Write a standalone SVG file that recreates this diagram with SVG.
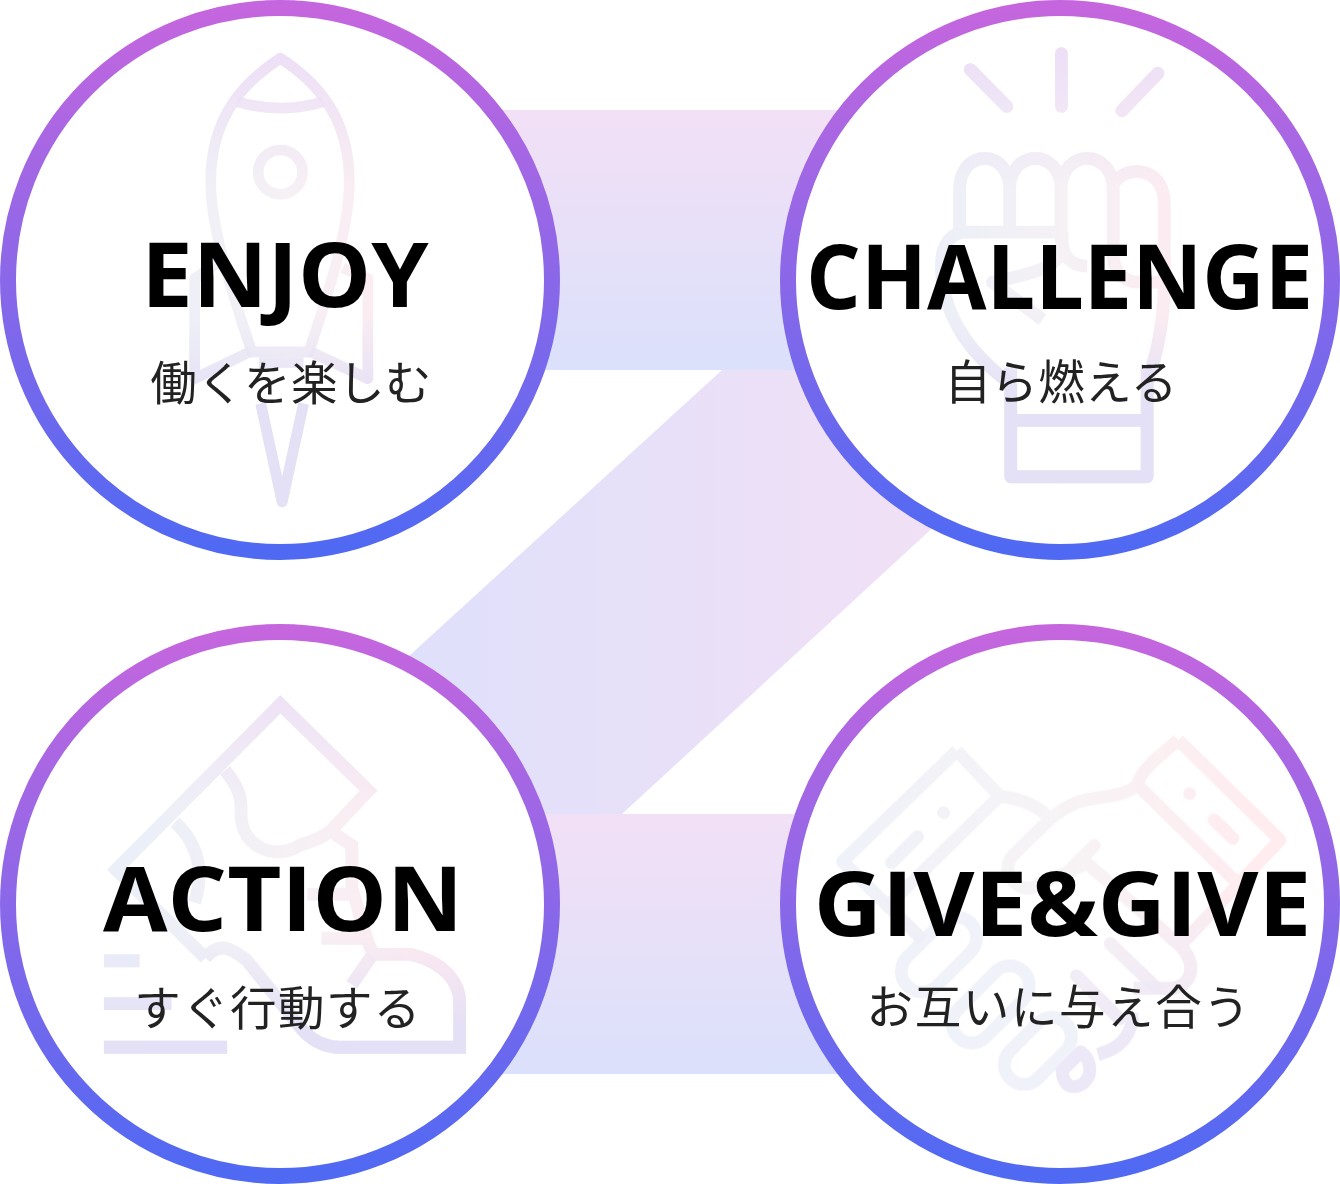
<svg xmlns="http://www.w3.org/2000/svg" width="1340" height="1184" viewBox="0 0 1340 1184">
<style>
.ring{fill:#fff;stroke:url(#ringG);stroke-width:16}
.en{font-family:"Open Sans","Liberation Sans",sans-serif;font-weight:700;font-size:90px;fill:#000;text-anchor:middle}
.jp{font-family:"Noto Sans CJK JP","Noto Sans",sans-serif;font-weight:400;font-size:46.5px;fill:#222;text-anchor:middle;letter-spacing:.4px;filter:url(#soft)}
.icon{filter:url(#soft2)}
.h,.v,.hs,.vs{fill:none;stroke-width:30;stroke-linejoin:round;stroke-linecap:butt}
.h{stroke:url(#iconH)}
.v{stroke:url(#iconV)}
.hs{stroke:url(#shakeH);stroke-width:36}
.vs{stroke:url(#shakeV);stroke-width:36}
</style>
<defs>
<filter id="soft" x="-5%" y="-10%" width="110%" height="120%"><feGaussianBlur stdDeviation=".45"/></filter>
<filter id="soft2" x="-5%" y="-5%" width="110%" height="110%"><feGaussianBlur stdDeviation=".7"/></filter>
<linearGradient id="ringG" x1="0" y1="0" x2="0" y2="1"><stop offset="0" stop-color="#c566de"/><stop offset="1" stop-color="#4f69f3"/></linearGradient>
<linearGradient id="bandG" x1="0" y1="0" x2="0" y2="1"><stop offset="0" stop-color="#f2e0f6"/><stop offset="1" stop-color="#dbe0fb"/></linearGradient>
<linearGradient id="diagG" gradientUnits="userSpaceOnUse" x1="410" y1="0" x2="930" y2="0"><stop offset="0" stop-color="#dfe0fb"/><stop offset="1" stop-color="#f1e0f6"/></linearGradient>
<linearGradient id="iconH" gradientUnits="userSpaceOnUse" x1="350" y1="0" x2="1250" y2="0"><stop offset="0" stop-color="#eaeff8"/><stop offset=".5" stop-color="#f5f1f5"/><stop offset="1" stop-color="#ffe9ef"/></linearGradient>
<linearGradient id="iconV" gradientUnits="userSpaceOnUse" x1="0" y1="150" x2="0" y2="1400"><stop offset="0" stop-color="#eddff6"/><stop offset=".15" stop-color="#eddff6" stop-opacity=".5"/><stop offset=".3" stop-color="#eddff6" stop-opacity="0"/><stop offset=".58" stop-color="#e4e0f6" stop-opacity="0"/><stop offset=".78" stop-color="#e4e0f6"/><stop offset="1" stop-color="#e4e0f6"/></linearGradient>
<linearGradient id="shakeH" gradientUnits="userSpaceOnUse" x1="200" y1="0" x2="1350" y2="0"><stop offset="0" stop-color="#eff2f9"/><stop offset=".5" stop-color="#f7f4f6"/><stop offset="1" stop-color="#ffecef"/></linearGradient>
<linearGradient id="shakeV" gradientUnits="userSpaceOnUse" x1="0" y1="750" x2="0" y2="1200"><stop offset="0" stop-color="#ece8f7" stop-opacity="0"/><stop offset="1" stop-color="#ece8f7"/></linearGradient>
<g id="rocket">
<path d="M785 163C690 225 590 320 590 510C590 640 650 820 705 985H865C920 820 978 640 978 510C978 320 880 225 785 163Z"/>
<path d="M665 285Q785 320 905 285"/>
<circle cx="785" cy="482" r="62"/>
<path d="M700 985L545 1060V780L610 735"/>
<path d="M870 985L1030 1060V780L960 750"/>
<path d="M725 1015H850"/>
<path d="M730 1130L790 1405L850 1130"/>
</g>
<g id="fist">
<path style="stroke-width:36;stroke-linecap:round" d="M533 195L635 298M788 150V298M1058 205L957 310"/>
<path style="stroke-width:36" d="M503 648V530C503 415 643 415 643 530V648M643 530C643 415 787 415 787 530V660C787 720 820 745 860 745M787 530C787 415 933 415 933 530V720Q940 790 1010 790H1076M933 520C950 465 1076 455 1076 570V790C1075 900 1060 980 1030 1060"/>
<path style="stroke-width:36" d="M790 650H520C470 650 450 700 452 750C455 880 530 990 640 1070M790 650V690C790 750 690 770 595 790L735 895"/>
<path style="stroke-width:36" d="M646 1030V1335H1028V1030M646 1177H1028"/>
</g>
<g id="hand" style="stroke-linejoin:miter">
<path style="stroke-width:36" d="M575 935L325 688L785 225L1032 467L925 580C880 615 850 610 830 625C760 660 680 620 675 540C675 500 680 470 630 410M925 580L985 620V740L1030 890L1045 925H1150C1240 945 1287 1000 1287 1060V1185H950C900 1185 870 1160 850 1140L690 940C660 920 620 880 575 935"/>
<path style="stroke-width:36" d="M490 555C560 620 570 700 545 780M1040 930L985 1010M860 757H975M900 880H1030"/>
<path style="stroke-width:36" d="M291 943H391M291 1063H480M291 1185H636"/>
</g>
<g id="shake">
<path d="M495 355L175 665L400 885M495 355L615 482L300 790"/>
<path d="M615 482C680 490 720 510 745 535"/>
<path d="M1115 325L1400 605L1130 890M1115 325C1060 370 1010 410 1000 450L1270 715"/>
<path d="M1000 450C960 490 880 480 830 500C780 520 760 540 650 650C620 690 650 740 700 740L860 670L1125 905C1170 960 1150 1010 1100 1020H990"/>
<path style="stroke-linecap:round" d="M880 620L815 685M925 895L1050 1015M830 985L950 1105"/>
<path style="stroke-linecap:round" d="M1215 548L1268 600M385 595L312 668M1147 475h.1M458 528h.1"/>
<rect x="-125" y="-58" width="250" height="116" rx="58" transform="translate(445 925) rotate(-45)"/>
<rect x="-130" y="-55" width="260" height="110" rx="55" transform="translate(590 1065) rotate(-45)"/>
<rect x="-110" y="-55" width="220" height="110" rx="55" transform="translate(722 1195) rotate(-45)"/>
<path d="M790 1250L842 1198C885 1230 870 1295 820 1295C800 1295 790 1270 790 1250Z"/>
<path d="M985 1090C990 1150 950 1190 890 1205"/>
</g>
</defs>
<g id="connectors">
<rect x="480" y="110" width="380" height="260" fill="url(#bandG)"/>
<rect x="480" y="814" width="380" height="260" fill="url(#bandG)"/>
<polygon points="722,370 1104,370 622,814 236,814" fill="url(#diagG)"/>
</g>
<g id="enjoy">
<circle class="ring" cx="280" cy="280" r="272"/>
<g class="icon" transform="scale(.35714)"><use class="h" href="#rocket"/><use class="v" href="#rocket"/></g>
<text class="en" transform="translate(285 307) scale(1.022 1)">ENJOY</text>
<text class="jp" x="291" y="400">働くを楽しむ</text>
</g>
<g id="challenge">
<circle class="ring" cx="1060" cy="280" r="272"/>
<g class="icon" transform="translate(780 0) scale(.35714)"><use class="h" href="#fist"/><use class="v" href="#fist"/></g>
<text class="en" transform="translate(1059.5 309) scale(.958 1)">CHALLENGE</text>
<text class="jp" x="1061" y="399">自ら燃える</text>
</g>
<g id="action">
<circle class="ring" cx="280" cy="904" r="272"/>
<g class="icon" transform="translate(0 624) scale(.35714)"><use class="h" href="#hand"/><use class="v" href="#hand"/></g>
<text class="en" transform="translate(283 931) scale(1.04 1)">ACTION</text>
<text class="jp" x="278" y="1025" style="letter-spacing:1.4px">すぐ行動する</text>
</g>
<g id="give">
<circle class="ring" cx="1060" cy="904" r="272"/>
<g class="icon" transform="translate(780 624) scale(.35714)"><use class="hs" href="#shake"/><use class="vs" href="#shake"/></g>
<text class="en" transform="translate(1062.5 936) scale(1.047 1)">GIVE&amp;GIVE</text>
<text class="jp" x="1059" y="1024" style="letter-spacing:1.6px">お互いに与え合う</text>
</g>
</svg>
